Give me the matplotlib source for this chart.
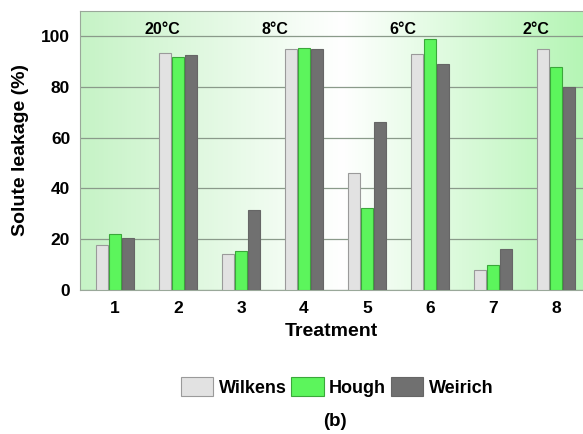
import numpy as np
import matplotlib
matplotlib.use("Agg")
import matplotlib.pyplot as plt
from matplotlib.colors import LinearSegmentedColormap

plt.rcParams['font.family'] = ['Liberation Sans', 'DejaVu Sans']
plt.rcParams['font.weight'] = 'bold'

treatments = [1, 2, 3, 4, 5, 6, 7, 8]
wilkens = [17.8, 93.4, 14.2, 95.0, 46.0, 92.8, 7.9, 95.0]
hough = [22.1, 91.8, 15.3, 95.4, 32.1, 98.9, 9.7, 87.9]
weirich = [20.3, 92.6, 31.6, 95.0, 66.0, 89.0, 16.3, 80.0]
temp_labels = ['20°C', '8°C', '6°C', '2°C']
temp_x = [1.75, 3.54, 5.57, 7.68]

fig = plt.figure(figsize=(5.83, 4.34), dpi=100)
ax = fig.add_axes([0.137, 0.332, 0.863, 0.643])

x = np.array(treatments)
w = 0.19
ax.bar(x - 0.21, wilkens, w, color='#e2e2e2', edgecolor='#9a9a9a', lw=0.8, label='Wilkens', zorder=3)
ax.bar(x, hough, w, color='#5cf55c', edgecolor='#3aa83a', lw=0.8, label='Hough', zorder=3)
ax.bar(x + 0.21, weirich, w, color='#707070', edgecolor='#666666', lw=0.8, label='Weirich', zorder=3)

ax.set_xlim(0.44, 8.43)
ax.set_ylim(0, 110)

# green - white - green background
cmap = LinearSegmentedColormap.from_list('bg', [(0, '#c6f3c6'), (0.52, '#ffffff'), (1, '#b5f5b5')])
grad = np.linspace(0, 1, 256).reshape(1, -1)
ax.imshow(grad, cmap=cmap, aspect='auto', extent=[0.44, 8.43, 0, 110], zorder=0)

ax.set_yticks([0, 20, 40, 60, 80, 100])
ax.set_xticks(treatments)
ax.grid(axis='y', color='#8a9a8a', lw=0.9, zorder=1)
ax.tick_params(length=0, labelsize=12.5)
ax.tick_params(axis='x', pad=8)
ax.tick_params(axis='y', pad=7)
for s in ax.spines.values():
    s.set_color('#9aa89a')
ax.spines['right'].set_visible(False)

for t, tx in zip(temp_labels, temp_x):
    ax.text(tx, 102.6, t, ha='center', va='center', fontsize=11.5, fontweight='bold', zorder=4)

ax.set_ylabel('Solute leakage (%)', fontsize=14, fontweight='bold', labelpad=9)
ax.set_xlabel('Treatment', fontsize=14, fontweight='bold', labelpad=5)

fig.legend(loc='center', bbox_to_anchor=(0.578, 0.108), ncol=3, frameon=False,
           fontsize=13, handlelength=1.8, handleheight=1.25, handletextpad=0.3,
           columnspacing=0.25)
fig.text(0.575, 0.028, '(b)', ha='center', va='center', fontsize=13.5, fontweight='bold')

fig.savefig('out.png', dpi=100)
